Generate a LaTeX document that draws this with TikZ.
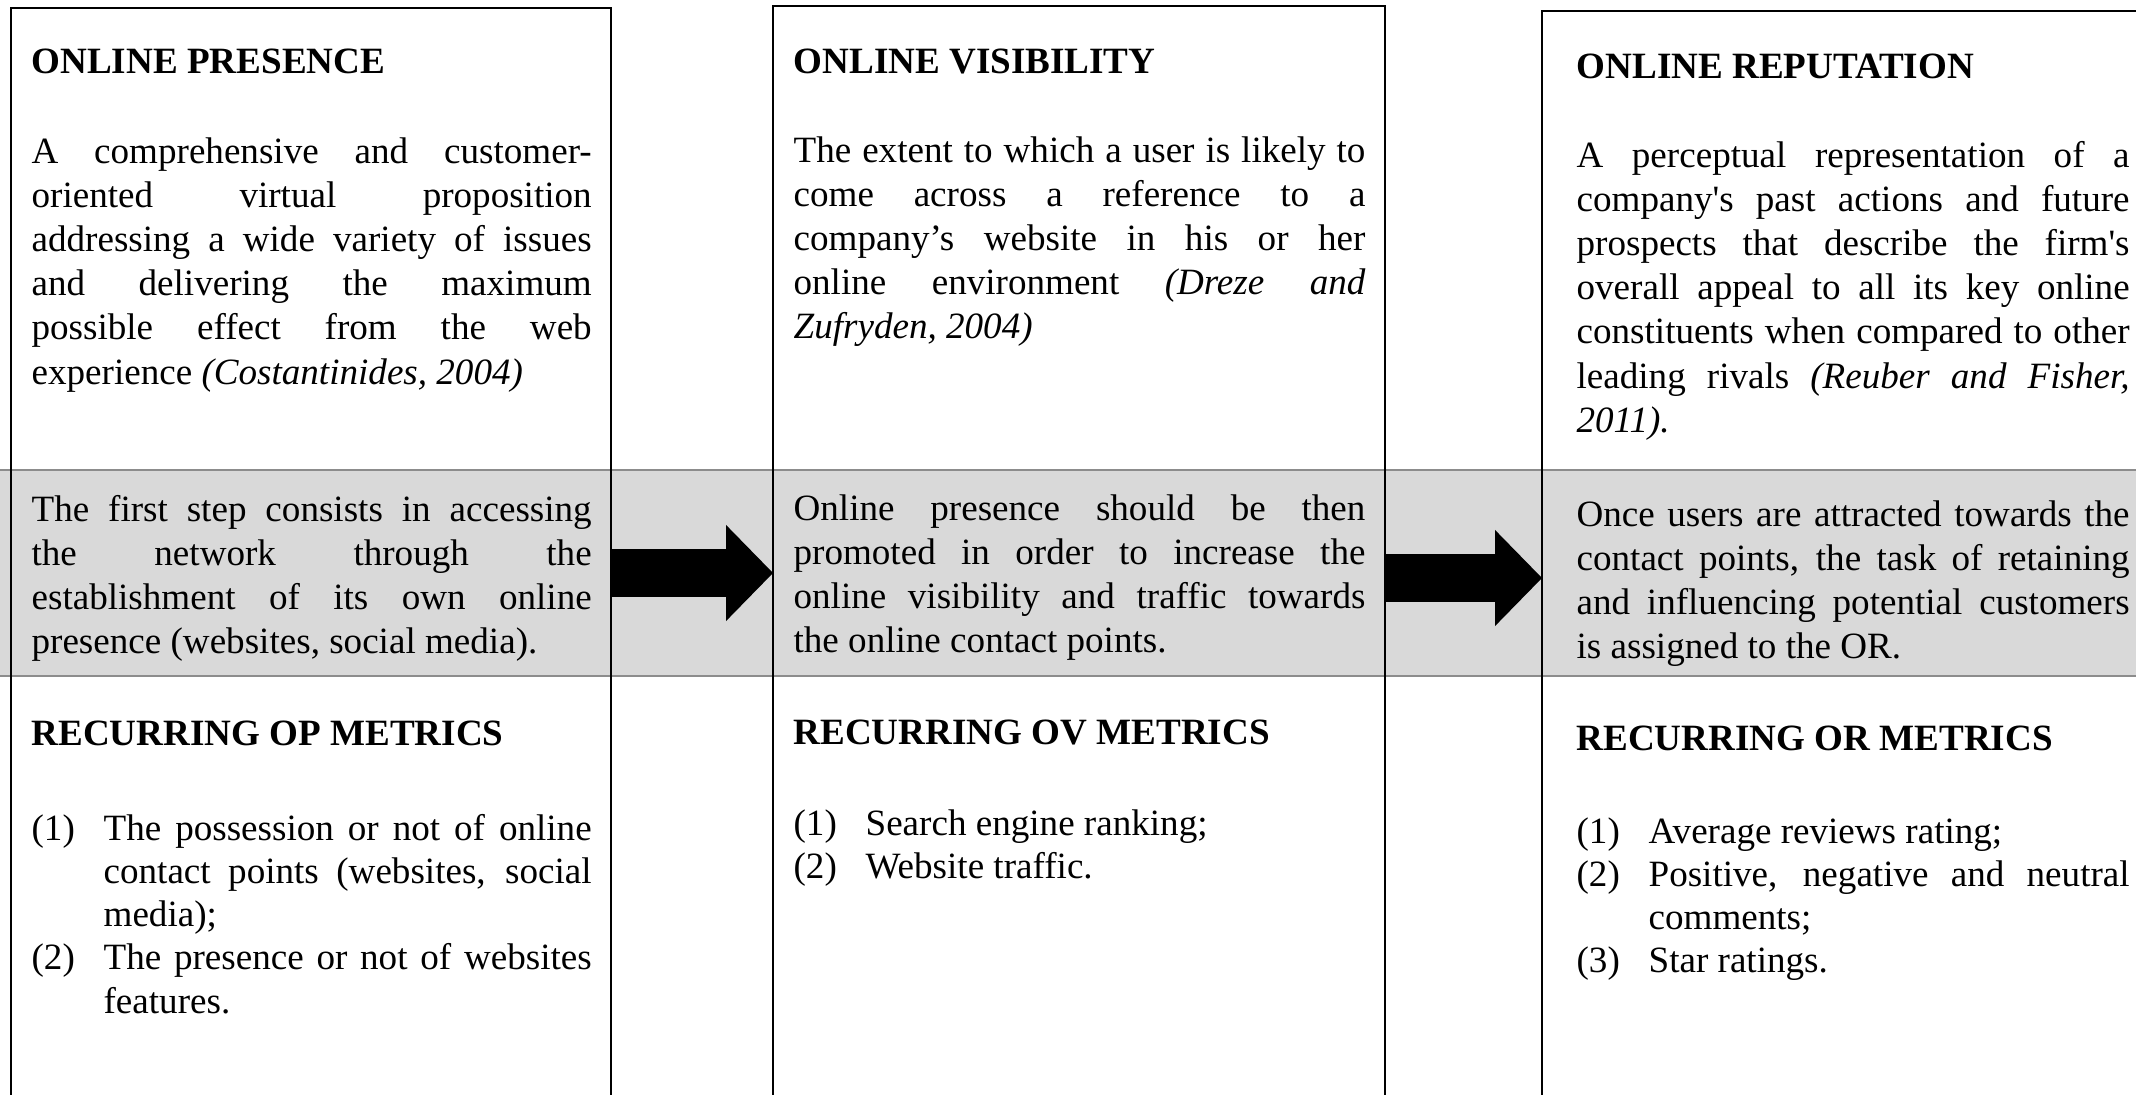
\documentclass[tikz,border=0pt]{standalone}
\usepackage{fontspec}
\setmainfont{Liberation Serif}
\usepackage{tikz}
\usetikzlibrary{arrows.meta,positioning}
\definecolor{bandfill}{HTML}{D9D9D9}
\definecolor{bandrule}{HTML}{8C8C8C}
\newcommand{\metric}[2]{\hangindent=23.3pt\hangafter=1\noindent\makebox[23.3pt][l]{#1}#2\par}
\tikzset{
  colframe/.style={draw=black,line width=0.9pt,inner sep=0pt,outer sep=0pt,anchor=north west,minimum height=400pt},
  heading/.style={font=\fontsize{12pt}{14.3pt}\selectfont\bfseries,inner sep=0pt,anchor=base west},
  deftext/.style={font=\fontsize{12pt}{14.3pt}\selectfont,inner sep=0pt,anchor=base west,align=justify},
  listtext/.style={deftext,font=\fontsize{12pt}{14pt}\selectfont},
  band/.style={fill=bandfill,draw=bandrule,line width=0.8pt},
  flow/.style={line width=15.5pt,-{Triangle[length=15.2pt,width=31.1pt,line width=0pt]}},
}
\begin{document}
\begin{tikzpicture}[x=0.3235pt,y=-0.3235pt]
  \useasboundingbox (0,0) rectangle (2136,1094);
  % grey band behind the three columns
  \draw[band] (-10,470) rectangle (2146,676);
  % column frames, open at the bottom
  \node[colframe,minimum width=194.1pt] (op) at (11,8) {};
  \node[colframe,minimum width=198pt] (ov) at (773,6) {};
  \node[colframe,minimum width=201pt] (or) at (1542,11) {};

  % online presence
  \node[heading] (opt) at (31,73) {ONLINE PRESENCE};
  \node[deftext,text width=181.2pt] (opd) at (31,163) {A comprehensive and customer-\linebreak oriented virtual proposition\linebreak addressing a wide variety of issues\linebreak and delivering the maximum\linebreak possible effect from the web\linebreak experience \textit{(Costantinides, 2004)}};
  \node[deftext,text width=181.2pt] (opg) at (31,521) {The first step consists in accessing\linebreak the network through the\linebreak establishment of its own online\linebreak presence (websites, social media).};
  \node[heading] (opm) at (31,745) {RECURRING OP METRICS};
  \node[listtext,text width=181.2pt] (opl) at (31,840) {\metric{(1)}{The possession or not of online\linebreak contact points (websites, social\linebreak media);}\metric{(2)}{The presence or not of websites\linebreak features.}};

  % online visibility
  \node[heading] (ovt) at (793,73) {ONLINE VISIBILITY};
  \node[deftext,text width=185pt] (ovd) at (793,162) {The extent to which a user is likely to\linebreak come across a reference to a\linebreak company’s website in his or her\linebreak online environment \textit{(Dreze and\linebreak Zufryden, 2004)}};
  \node[deftext,text width=185pt] (ovg) at (793,520) {Online presence should be then\linebreak promoted in order to increase the\linebreak online visibility and traffic towards\linebreak the online contact points.};
  \node[heading] (ovm) at (793,744) {RECURRING OV METRICS};
  \node[listtext,text width=185pt] (ovl) at (793,835) {\metric{(1)}{Search engine ranking;}\metric{(2)}{Website traffic.}};

  % online reputation
  \node[heading] (ort) at (1576,78) {ONLINE REPUTATION};
  \node[deftext,text width=178.9pt] (ord) at (1576,167) {A perceptual representation of a\linebreak company\textquotesingle s past actions and future\linebreak prospects that describe the firm\textquotesingle s\linebreak overall appeal to all its key online\linebreak constituents when compared to other\linebreak leading rivals \textit{(Reuber and Fisher,\linebreak 2011).}};
  \node[deftext,text width=178.9pt] (org) at (1576,526) {Once users are attracted towards the\linebreak contact points, the task of retaining\linebreak and influencing potential customers\linebreak is assigned to the OR.};
  \node[heading] (orm) at (1576,750) {RECURRING OR METRICS};
  \node[listtext,text width=178.9pt] (orl) at (1576,843) {\metric{(1)}{Average reviews rating;}\metric{(2)}{Positive, negative and neutral\linebreak comments;}\metric{(3)}{Star ratings.}};

  % block arrows between the columns
  \coordinate (r1) at (0,573);
  \coordinate (r2) at (0,578);
  \draw[flow] (op.east |- r1) -- (ov.west |- r1);
  \draw[flow] (ov.east |- r2) -- (or.west |- r2);
\end{tikzpicture}
\end{document}
